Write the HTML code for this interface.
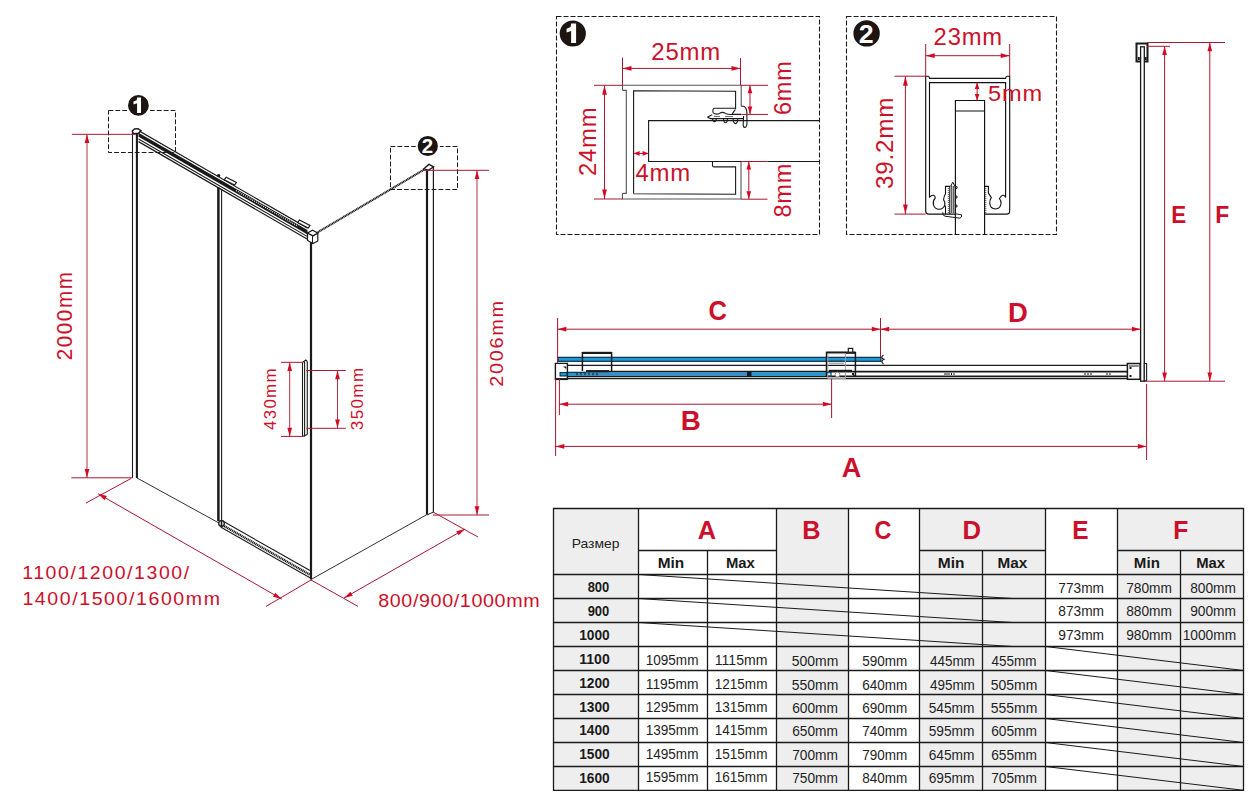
<!DOCTYPE html>
<html><head><meta charset="utf-8"><style>
html,body{margin:0;padding:0;background:#fff;}
body{width:1250px;height:800px;overflow:hidden;font-family:"Liberation Sans",sans-serif;}
svg{display:block;}
text{font-family:"Liberation Sans",sans-serif;}
</style></head><body>
<svg width="1250" height="800" viewBox="0 0 1250 800">
<rect width="1250" height="800" fill="#fff"/>
<rect x="553.5" y="508.5" width="85.0" height="281.79999999999995" fill="#eeeeee"/>
<rect x="776.5" y="508.5" width="72.0" height="281.79999999999995" fill="#eeeeee"/>
<rect x="919.5" y="508.5" width="126.0" height="281.79999999999995" fill="#eeeeee"/>
<rect x="1117.5" y="508.5" width="126.0" height="281.79999999999995" fill="#eeeeee"/>
<line x1="552.90" y1="508.50" x2="1244.10" y2="508.50" stroke="#1a1a1a" stroke-width="1.3" />
<line x1="638.50" y1="550.50" x2="776.50" y2="550.50" stroke="#1a1a1a" stroke-width="1.3" />
<line x1="919.50" y1="550.50" x2="1045.50" y2="550.50" stroke="#1a1a1a" stroke-width="1.3" />
<line x1="1117.50" y1="550.50" x2="1243.50" y2="550.50" stroke="#1a1a1a" stroke-width="1.3" />
<line x1="552.90" y1="574.50" x2="1244.10" y2="574.50" stroke="#1a1a1a" stroke-width="1.3" />
<line x1="552.90" y1="598.50" x2="1244.10" y2="598.50" stroke="#1a1a1a" stroke-width="1.3" />
<line x1="552.90" y1="622.50" x2="1244.10" y2="622.50" stroke="#1a1a1a" stroke-width="1.3" />
<line x1="552.90" y1="646.50" x2="1244.10" y2="646.50" stroke="#1a1a1a" stroke-width="1.3" />
<line x1="552.90" y1="670.50" x2="1244.10" y2="670.50" stroke="#1a1a1a" stroke-width="1.3" />
<line x1="552.90" y1="694.50" x2="1244.10" y2="694.50" stroke="#1a1a1a" stroke-width="1.3" />
<line x1="552.90" y1="718.50" x2="1244.10" y2="718.50" stroke="#1a1a1a" stroke-width="1.3" />
<line x1="552.90" y1="742.50" x2="1244.10" y2="742.50" stroke="#1a1a1a" stroke-width="1.3" />
<line x1="552.90" y1="766.50" x2="1244.10" y2="766.50" stroke="#1a1a1a" stroke-width="1.3" />
<line x1="552.90" y1="790.30" x2="1244.10" y2="790.30" stroke="#1a1a1a" stroke-width="1.3" />
<line x1="553.50" y1="508.50" x2="553.50" y2="790.30" stroke="#1a1a1a" stroke-width="1.3" />
<line x1="638.50" y1="508.50" x2="638.50" y2="790.30" stroke="#1a1a1a" stroke-width="1.3" />
<line x1="707.50" y1="550.50" x2="707.50" y2="790.30" stroke="#1a1a1a" stroke-width="1.3" />
<line x1="776.50" y1="508.50" x2="776.50" y2="790.30" stroke="#1a1a1a" stroke-width="1.3" />
<line x1="848.50" y1="508.50" x2="848.50" y2="790.30" stroke="#1a1a1a" stroke-width="1.3" />
<line x1="919.50" y1="508.50" x2="919.50" y2="790.30" stroke="#1a1a1a" stroke-width="1.3" />
<line x1="982.50" y1="550.50" x2="982.50" y2="790.30" stroke="#1a1a1a" stroke-width="1.3" />
<line x1="1045.50" y1="508.50" x2="1045.50" y2="790.30" stroke="#1a1a1a" stroke-width="1.3" />
<line x1="1117.50" y1="508.50" x2="1117.50" y2="790.30" stroke="#1a1a1a" stroke-width="1.3" />
<line x1="1180.50" y1="550.50" x2="1180.50" y2="790.30" stroke="#1a1a1a" stroke-width="1.3" />
<line x1="1243.50" y1="508.50" x2="1243.50" y2="790.30" stroke="#1a1a1a" stroke-width="1.3" />
<line x1="638.50" y1="574.50" x2="1012.50" y2="598.50" stroke="#1a1a1a" stroke-width="1" />
<line x1="638.50" y1="598.50" x2="1012.50" y2="622.50" stroke="#1a1a1a" stroke-width="1" />
<line x1="638.50" y1="622.50" x2="1012.50" y2="646.50" stroke="#1a1a1a" stroke-width="1" />
<line x1="1045.50" y1="646.50" x2="1243.50" y2="670.50" stroke="#1a1a1a" stroke-width="1" />
<line x1="1045.50" y1="670.50" x2="1243.50" y2="694.50" stroke="#1a1a1a" stroke-width="1" />
<line x1="1045.50" y1="694.50" x2="1243.50" y2="718.50" stroke="#1a1a1a" stroke-width="1" />
<line x1="1045.50" y1="718.50" x2="1243.50" y2="742.50" stroke="#1a1a1a" stroke-width="1" />
<line x1="1045.50" y1="742.50" x2="1243.50" y2="766.50" stroke="#1a1a1a" stroke-width="1" />
<line x1="1045.50" y1="766.50" x2="1243.50" y2="790.30" stroke="#1a1a1a" stroke-width="1" />
<g font-family="Liberation Sans, sans-serif">
<text x="571.71" y="547.56" font-size="13.63" font-weight="normal" fill="#222" textLength="47.83" lengthAdjust="spacingAndGlyphs" letter-spacing="0">Размер</text>
<text x="697.68" y="538.94" font-size="25.30" font-weight="bold" fill="#cc0f2b" textLength="18.37" lengthAdjust="spacingAndGlyphs" letter-spacing="0">A</text>
<text x="802.22" y="538.94" font-size="25.30" font-weight="bold" fill="#cc0f2b" textLength="18.31" lengthAdjust="spacingAndGlyphs" letter-spacing="0">B</text>
<text x="874.42" y="538.94" font-size="25.30" font-weight="bold" fill="#cc0f2b" textLength="16.93" lengthAdjust="spacingAndGlyphs" letter-spacing="0">C</text>
<text x="962.52" y="538.94" font-size="25.30" font-weight="bold" fill="#cc0f2b" textLength="18.53" lengthAdjust="spacingAndGlyphs" letter-spacing="0">D</text>
<text x="1072.20" y="538.94" font-size="25.30" font-weight="bold" fill="#cc0f2b" textLength="16.29" lengthAdjust="spacingAndGlyphs" letter-spacing="0">E</text>
<text x="1173.36" y="538.94" font-size="25.30" font-weight="bold" fill="#cc0f2b" textLength="15.07" lengthAdjust="spacingAndGlyphs" letter-spacing="0">F</text>
<text x="657.71" y="568.08" font-size="14.80" font-weight="bold" fill="#1a1a1a" textLength="26.45" lengthAdjust="spacingAndGlyphs" letter-spacing="0">Min</text>
<text x="725.95" y="567.52" font-size="14.80" font-weight="bold" fill="#1a1a1a" textLength="28.87" lengthAdjust="spacingAndGlyphs" letter-spacing="0">Max</text>
<text x="937.79" y="568.08" font-size="14.80" font-weight="bold" fill="#1a1a1a" textLength="26.67" lengthAdjust="spacingAndGlyphs" letter-spacing="0">Min</text>
<text x="997.59" y="567.52" font-size="14.80" font-weight="bold" fill="#1a1a1a" textLength="29.77" lengthAdjust="spacingAndGlyphs" letter-spacing="0">Max</text>
<text x="1133.89" y="568.08" font-size="14.80" font-weight="bold" fill="#1a1a1a" textLength="25.99" lengthAdjust="spacingAndGlyphs" letter-spacing="0">Min</text>
<text x="1196.19" y="567.52" font-size="14.80" font-weight="bold" fill="#1a1a1a" textLength="28.87" lengthAdjust="spacingAndGlyphs" letter-spacing="0">Max</text>
<text x="587.64" y="591.50" font-size="13.90" font-weight="bold" fill="#1a1a1a" textLength="21.67" lengthAdjust="spacingAndGlyphs" letter-spacing="0">800</text>
<text x="587.64" y="616.18" font-size="13.90" font-weight="bold" fill="#1a1a1a" textLength="21.67" lengthAdjust="spacingAndGlyphs" letter-spacing="0">900</text>
<text x="579.24" y="639.84" font-size="13.90" font-weight="bold" fill="#1a1a1a" textLength="30.47" lengthAdjust="spacingAndGlyphs" letter-spacing="0">1000</text>
<text x="579.24" y="663.96" font-size="13.90" font-weight="bold" fill="#1a1a1a" textLength="30.47" lengthAdjust="spacingAndGlyphs" letter-spacing="0">1100</text>
<text x="579.24" y="687.74" font-size="13.90" font-weight="bold" fill="#1a1a1a" textLength="30.47" lengthAdjust="spacingAndGlyphs" letter-spacing="0">1200</text>
<text x="579.24" y="711.74" font-size="13.90" font-weight="bold" fill="#1a1a1a" textLength="30.47" lengthAdjust="spacingAndGlyphs" letter-spacing="0">1300</text>
<text x="579.24" y="734.50" font-size="13.90" font-weight="bold" fill="#1a1a1a" textLength="30.47" lengthAdjust="spacingAndGlyphs" letter-spacing="0">1400</text>
<text x="579.24" y="758.96" font-size="13.90" font-weight="bold" fill="#1a1a1a" textLength="30.47" lengthAdjust="spacingAndGlyphs" letter-spacing="0">1500</text>
<text x="579.24" y="782.96" font-size="13.90" font-weight="bold" fill="#1a1a1a" textLength="30.47" lengthAdjust="spacingAndGlyphs" letter-spacing="0">1600</text>
<text x="1058.26" y="593.02" font-size="14.30" font-weight="normal" fill="#1e1e1e" textLength="45.79" lengthAdjust="spacingAndGlyphs" letter-spacing="0">773mm</text>
<text x="1126.14" y="593.02" font-size="14.30" font-weight="normal" fill="#1e1e1e" textLength="45.79" lengthAdjust="spacingAndGlyphs" letter-spacing="0">780mm</text>
<text x="1190.14" y="593.02" font-size="14.30" font-weight="normal" fill="#1e1e1e" textLength="45.79" lengthAdjust="spacingAndGlyphs" letter-spacing="0">800mm</text>
<text x="1058.26" y="616.02" font-size="14.30" font-weight="normal" fill="#1e1e1e" textLength="45.79" lengthAdjust="spacingAndGlyphs" letter-spacing="0">873mm</text>
<text x="1126.14" y="616.02" font-size="14.30" font-weight="normal" fill="#1e1e1e" textLength="45.79" lengthAdjust="spacingAndGlyphs" letter-spacing="0">880mm</text>
<text x="1190.14" y="616.02" font-size="14.30" font-weight="normal" fill="#1e1e1e" textLength="45.79" lengthAdjust="spacingAndGlyphs" letter-spacing="0">900mm</text>
<text x="1058.26" y="639.80" font-size="14.30" font-weight="normal" fill="#1e1e1e" textLength="45.79" lengthAdjust="spacingAndGlyphs" letter-spacing="0">973mm</text>
<text x="1126.14" y="639.80" font-size="14.30" font-weight="normal" fill="#1e1e1e" textLength="45.79" lengthAdjust="spacingAndGlyphs" letter-spacing="0">980mm</text>
<text x="1182.70" y="639.80" font-size="14.30" font-weight="normal" fill="#1e1e1e" textLength="53.47" lengthAdjust="spacingAndGlyphs" letter-spacing="0">1000mm</text>
<text x="645.76" y="665.36" font-size="14.30" font-weight="normal" fill="#1e1e1e" textLength="52.67" lengthAdjust="spacingAndGlyphs" letter-spacing="0">1095mm</text>
<text x="714.76" y="665.36" font-size="14.30" font-weight="normal" fill="#1e1e1e" textLength="52.67" lengthAdjust="spacingAndGlyphs" letter-spacing="0">1115mm</text>
<text x="791.74" y="665.68" font-size="14.30" font-weight="normal" fill="#1e1e1e" textLength="46.59" lengthAdjust="spacingAndGlyphs" letter-spacing="0">500mm</text>
<text x="862.20" y="665.68" font-size="14.30" font-weight="normal" fill="#1e1e1e" textLength="44.99" lengthAdjust="spacingAndGlyphs" letter-spacing="0">590mm</text>
<text x="929.88" y="665.68" font-size="14.30" font-weight="normal" fill="#1e1e1e" textLength="44.99" lengthAdjust="spacingAndGlyphs" letter-spacing="0">445mm</text>
<text x="991.54" y="665.68" font-size="14.30" font-weight="normal" fill="#1e1e1e" textLength="44.99" lengthAdjust="spacingAndGlyphs" letter-spacing="0">455mm</text>
<text x="645.76" y="688.90" font-size="14.30" font-weight="normal" fill="#1e1e1e" textLength="52.67" lengthAdjust="spacingAndGlyphs" letter-spacing="0">1195mm</text>
<text x="714.76" y="688.90" font-size="14.30" font-weight="normal" fill="#1e1e1e" textLength="52.67" lengthAdjust="spacingAndGlyphs" letter-spacing="0">1215mm</text>
<text x="791.74" y="690.02" font-size="14.30" font-weight="normal" fill="#1e1e1e" textLength="46.59" lengthAdjust="spacingAndGlyphs" letter-spacing="0">550mm</text>
<text x="862.20" y="690.02" font-size="14.30" font-weight="normal" fill="#1e1e1e" textLength="44.99" lengthAdjust="spacingAndGlyphs" letter-spacing="0">640mm</text>
<text x="929.88" y="690.02" font-size="14.30" font-weight="normal" fill="#1e1e1e" textLength="44.99" lengthAdjust="spacingAndGlyphs" letter-spacing="0">495mm</text>
<text x="990.74" y="690.02" font-size="14.30" font-weight="normal" fill="#1e1e1e" textLength="46.59" lengthAdjust="spacingAndGlyphs" letter-spacing="0">505mm</text>
<text x="645.76" y="711.79" font-size="14.30" font-weight="normal" fill="#1e1e1e" textLength="52.67" lengthAdjust="spacingAndGlyphs" letter-spacing="0">1295mm</text>
<text x="714.76" y="711.79" font-size="14.30" font-weight="normal" fill="#1e1e1e" textLength="52.67" lengthAdjust="spacingAndGlyphs" letter-spacing="0">1315mm</text>
<text x="792.14" y="712.91" font-size="14.30" font-weight="normal" fill="#1e1e1e" textLength="45.79" lengthAdjust="spacingAndGlyphs" letter-spacing="0">600mm</text>
<text x="862.20" y="712.91" font-size="14.30" font-weight="normal" fill="#1e1e1e" textLength="44.99" lengthAdjust="spacingAndGlyphs" letter-spacing="0">690mm</text>
<text x="928.68" y="712.91" font-size="14.30" font-weight="normal" fill="#1e1e1e" textLength="45.79" lengthAdjust="spacingAndGlyphs" letter-spacing="0">545mm</text>
<text x="990.74" y="712.91" font-size="14.30" font-weight="normal" fill="#1e1e1e" textLength="46.59" lengthAdjust="spacingAndGlyphs" letter-spacing="0">555mm</text>
<text x="645.76" y="734.68" font-size="14.30" font-weight="normal" fill="#1e1e1e" textLength="52.67" lengthAdjust="spacingAndGlyphs" letter-spacing="0">1395mm</text>
<text x="714.76" y="734.68" font-size="14.30" font-weight="normal" fill="#1e1e1e" textLength="52.67" lengthAdjust="spacingAndGlyphs" letter-spacing="0">1415mm</text>
<text x="792.14" y="735.80" font-size="14.30" font-weight="normal" fill="#1e1e1e" textLength="45.79" lengthAdjust="spacingAndGlyphs" letter-spacing="0">650mm</text>
<text x="862.20" y="735.80" font-size="14.30" font-weight="normal" fill="#1e1e1e" textLength="44.99" lengthAdjust="spacingAndGlyphs" letter-spacing="0">740mm</text>
<text x="928.68" y="735.80" font-size="14.30" font-weight="normal" fill="#1e1e1e" textLength="45.79" lengthAdjust="spacingAndGlyphs" letter-spacing="0">595mm</text>
<text x="991.14" y="735.80" font-size="14.30" font-weight="normal" fill="#1e1e1e" textLength="45.79" lengthAdjust="spacingAndGlyphs" letter-spacing="0">605mm</text>
<text x="645.76" y="758.68" font-size="14.30" font-weight="normal" fill="#1e1e1e" textLength="52.67" lengthAdjust="spacingAndGlyphs" letter-spacing="0">1495mm</text>
<text x="714.76" y="758.68" font-size="14.30" font-weight="normal" fill="#1e1e1e" textLength="52.67" lengthAdjust="spacingAndGlyphs" letter-spacing="0">1515mm</text>
<text x="792.14" y="759.80" font-size="14.30" font-weight="normal" fill="#1e1e1e" textLength="45.79" lengthAdjust="spacingAndGlyphs" letter-spacing="0">700mm</text>
<text x="862.20" y="759.80" font-size="14.30" font-weight="normal" fill="#1e1e1e" textLength="44.99" lengthAdjust="spacingAndGlyphs" letter-spacing="0">790mm</text>
<text x="928.68" y="759.80" font-size="14.30" font-weight="normal" fill="#1e1e1e" textLength="45.79" lengthAdjust="spacingAndGlyphs" letter-spacing="0">645mm</text>
<text x="991.14" y="759.80" font-size="14.30" font-weight="normal" fill="#1e1e1e" textLength="45.79" lengthAdjust="spacingAndGlyphs" letter-spacing="0">655mm</text>
<text x="645.76" y="781.79" font-size="14.30" font-weight="normal" fill="#1e1e1e" textLength="52.67" lengthAdjust="spacingAndGlyphs" letter-spacing="0">1595mm</text>
<text x="714.76" y="781.79" font-size="14.30" font-weight="normal" fill="#1e1e1e" textLength="52.67" lengthAdjust="spacingAndGlyphs" letter-spacing="0">1615mm</text>
<text x="792.14" y="782.91" font-size="14.30" font-weight="normal" fill="#1e1e1e" textLength="45.79" lengthAdjust="spacingAndGlyphs" letter-spacing="0">750mm</text>
<text x="862.20" y="782.91" font-size="14.30" font-weight="normal" fill="#1e1e1e" textLength="44.99" lengthAdjust="spacingAndGlyphs" letter-spacing="0">840mm</text>
<text x="928.68" y="782.91" font-size="14.30" font-weight="normal" fill="#1e1e1e" textLength="45.79" lengthAdjust="spacingAndGlyphs" letter-spacing="0">695mm</text>
<text x="991.14" y="782.91" font-size="14.30" font-weight="normal" fill="#1e1e1e" textLength="45.79" lengthAdjust="spacingAndGlyphs" letter-spacing="0">705mm</text>
</g>
<rect x="108.5" y="110.5" width="67" height="42" fill="none" stroke="#1a1a1a" stroke-width="1" stroke-dasharray="4.8 2.1"/>
<rect x="390.5" y="146.5" width="67" height="43" fill="none" stroke="#1a1a1a" stroke-width="1" stroke-dasharray="4.8 2.1"/>
<line x1="132.50" y1="131.00" x2="132.50" y2="478.00" stroke="#1a1a1a" stroke-width="1.1" />
<line x1="136.90" y1="133.00" x2="136.90" y2="478.00" stroke="#1a1a1a" stroke-width="2.1" />
<line x1="218.40" y1="187.50" x2="218.40" y2="521.00" stroke="#1a1a1a" stroke-width="2.5" />
<line x1="221.60" y1="189.00" x2="221.60" y2="521.00" stroke="#1a1a1a" stroke-width="1.1" />
<line x1="311.00" y1="241.00" x2="311.00" y2="579.50" stroke="#1a1a1a" stroke-width="2.2" />
<line x1="427.00" y1="169.00" x2="427.00" y2="514.50" stroke="#1a1a1a" stroke-width="2.2" />
<line x1="433.40" y1="167.00" x2="433.40" y2="512.00" stroke="#1a1a1a" stroke-width="1.2" />
<line x1="138.50" y1="130.63" x2="307.50" y2="228.12" stroke="#1a1a1a" stroke-width="1.2" />
<polygon points="138.5,132.633 307.5,230.015 307.5,234.415 138.5,136.633" fill="#1a1a1a"/>
<line x1="138.50" y1="131.73" x2="307.50" y2="229.22" stroke="#fff" stroke-width="0.7" stroke-dasharray="1 1"/>
<line x1="236.00" y1="190.49" x2="298.00" y2="226.22" stroke="#fff" stroke-width="1.3" stroke-dasharray="0.9 1.2"/>
<line x1="138.50" y1="138.93" x2="307.50" y2="236.62" stroke="#1a1a1a" stroke-width="1.1" />
<line x1="138.50" y1="141.63" x2="307.50" y2="239.31" stroke="#1a1a1a" stroke-width="1.2" />
<polygon points="226.2,177.2 236.4,182.5 234.6,185 224.2,179.8" fill="#fff" stroke="#1a1a1a" stroke-width="1.2"/>
<polygon points="299.5,220 310,225.5 308.2,228 297.7,222.6" fill="#fff" stroke="#1a1a1a" stroke-width="1.2"/>
<circle cx="218.6" cy="175.6" r="1.7" fill="#1a1a1a"/>
<polygon points="307.5,233 307.5,240.5 313,243.5 317.8,241 317.8,233 313,235.8" fill="#fff" stroke="#1a1a1a" stroke-width="1.2"/>
<polygon points="307.5,233 312.5,230.2 317.8,233 313,235.8" fill="#fff" stroke="#1a1a1a" stroke-width="1.2"/>
<line x1="312.50" y1="236.00" x2="312.50" y2="243.50" stroke="#1a1a1a" stroke-width="1" />
<polygon points="132.2,131 134.5,129 138,128.6 141,130.6 138.5,133.2 133.5,133.6" fill="#fff" stroke="#1a1a1a" stroke-width="1.4"/>
<polygon points="423.8,168.8 429,164.4 433.6,166.8 428.4,170.2" fill="#fff" stroke="#1a1a1a" stroke-width="1.3"/>
<line x1="317.80" y1="232.20" x2="424.50" y2="169.40" stroke="#1a1a1a" stroke-width="2.1" stroke-dasharray="1.2 0.45"/>
<line x1="137.00" y1="478.00" x2="219.00" y2="523.00" stroke="#1a1a1a" stroke-width="0.9" />
<line x1="221.00" y1="520.05" x2="310.00" y2="570.51" stroke="#1a1a1a" stroke-width="1.1" />
<line x1="221.00" y1="524.25" x2="310.00" y2="574.71" stroke="#1a1a1a" stroke-width="2.4" stroke-dasharray="1.2 0.6"/>
<line x1="221.00" y1="527.35" x2="310.00" y2="577.81" stroke="#1a1a1a" stroke-width="1.1" />
<circle cx="221.5" cy="523.5" r="2.8" fill="#fff" stroke="#1a1a1a" stroke-width="1.3"/>
<line x1="221.50" y1="521.00" x2="221.50" y2="528.00" stroke="#1a1a1a" stroke-width="1.6" />
<line x1="311.00" y1="579.50" x2="427.00" y2="514.50" stroke="#1a1a1a" stroke-width="0.9" />
<line x1="433.40" y1="512.00" x2="427.00" y2="515.00" stroke="#1a1a1a" stroke-width="1" />
<line x1="302.50" y1="362.50" x2="302.50" y2="436.50" stroke="#1a1a1a" stroke-width="1.1" />
<line x1="304.60" y1="361.50" x2="304.60" y2="436.50" stroke="#1a1a1a" stroke-width="1.1" />
<line x1="307.30" y1="361.50" x2="307.30" y2="434.50" stroke="#1a1a1a" stroke-width="1.1" />
<polyline points="302.5,362.5 305.8,360 307.3,361.5" fill="none" stroke="#1a1a1a" stroke-width="1.1"/>
<line x1="302.50" y1="436.50" x2="307.30" y2="434.50" stroke="#1a1a1a" stroke-width="1.1" />
<line x1="71.80" y1="134.30" x2="136.00" y2="134.30" stroke="#a8182f" stroke-width="1" />
<line x1="71.30" y1="477.80" x2="133.00" y2="477.80" stroke="#a8182f" stroke-width="1" />
<line x1="87.00" y1="134.30" x2="87.00" y2="477.80" stroke="#a8182f" stroke-width="0.9" />
<polygon points="87.00,134.30 89.35,143.00 84.65,143.00" fill="#d40a24"/>
<polygon points="87.00,477.80 84.65,469.10 89.35,469.10" fill="#d40a24"/>
<line x1="424.00" y1="170.30" x2="489.00" y2="170.30" stroke="#a8182f" stroke-width="1" />
<line x1="433.00" y1="515.00" x2="489.00" y2="515.00" stroke="#a8182f" stroke-width="1" />
<line x1="477.00" y1="170.30" x2="477.00" y2="515.00" stroke="#a8182f" stroke-width="0.9" />
<polygon points="477.00,170.30 479.35,179.00 474.65,179.00" fill="#d40a24"/>
<polygon points="477.00,515.00 474.65,506.30 479.35,506.30" fill="#d40a24"/>
<line x1="281.00" y1="362.30" x2="302.50" y2="362.30" stroke="#a8182f" stroke-width="1" />
<line x1="281.00" y1="436.40" x2="302.50" y2="436.40" stroke="#a8182f" stroke-width="1" />
<line x1="289.70" y1="362.30" x2="289.70" y2="436.40" stroke="#a8182f" stroke-width="0.9" />
<polygon points="289.70,362.30 292.05,371.00 287.35,371.00" fill="#d40a24"/>
<polygon points="289.70,436.40 287.35,427.70 292.05,427.70" fill="#d40a24"/>
<line x1="306.30" y1="370.50" x2="345.80" y2="370.50" stroke="#a8182f" stroke-width="1" />
<line x1="306.30" y1="428.30" x2="345.80" y2="428.30" stroke="#a8182f" stroke-width="1" />
<line x1="337.50" y1="370.50" x2="337.50" y2="428.30" stroke="#a8182f" stroke-width="0.9" />
<polygon points="337.50,370.50 339.85,379.20 335.15,379.20" fill="#d40a24"/>
<polygon points="337.50,428.30 335.15,419.60 339.85,419.60" fill="#d40a24"/>
<line x1="131.00" y1="478.50" x2="86.00" y2="503.00" stroke="#a8182f" stroke-width="1" />
<line x1="311.00" y1="580.00" x2="266.00" y2="606.40" stroke="#a8182f" stroke-width="1" />
<line x1="98.20" y1="493.80" x2="281.70" y2="599.00" stroke="#a8182f" stroke-width="1" />
<polygon points="98.20,493.80 106.92,496.09 104.58,500.17" fill="#d40a24"/>
<polygon points="281.70,599.00 272.98,596.71 275.32,592.63" fill="#d40a24"/>
<line x1="311.00" y1="580.00" x2="358.00" y2="606.40" stroke="#a8182f" stroke-width="1" />
<line x1="433.00" y1="512.00" x2="478.00" y2="537.00" stroke="#a8182f" stroke-width="1" />
<line x1="344.00" y1="598.00" x2="465.00" y2="529.00" stroke="#a8182f" stroke-width="1" />
<polygon points="344.00,598.00 350.39,591.65 352.72,595.73" fill="#d40a24"/>
<polygon points="465.00,529.00 458.61,535.35 456.28,531.27" fill="#d40a24"/>
<g font-family="Liberation Sans, sans-serif">
<text transform="translate(72.26,360.23) rotate(-90)" x="0" y="0" font-size="21.79" font-weight="normal" fill="#cc0f2b" textLength="89.62" lengthAdjust="spacingAndGlyphs" letter-spacing="1.6">2000mm</text>
<text transform="translate(502.90,386.75) rotate(-90)" x="0" y="0" font-size="19.22" font-weight="normal" fill="#cc0f2b" textLength="87.56" lengthAdjust="spacingAndGlyphs" letter-spacing="1.6">2006mm</text>
<text transform="translate(276.36,430.03) rotate(-90)" x="0" y="0" font-size="17.30" font-weight="normal" fill="#cc0f2b" textLength="62.87" lengthAdjust="spacingAndGlyphs" letter-spacing="1.4">430mm</text>
<text transform="translate(362.84,430.15) rotate(-90)" x="0" y="0" font-size="17.30" font-weight="normal" fill="#cc0f2b" textLength="63.59" lengthAdjust="spacingAndGlyphs" letter-spacing="1.4">350mm</text>
<text x="22.16" y="579.00" font-size="18.60" font-weight="normal" fill="#cc0f2b" textLength="168.61" lengthAdjust="spacingAndGlyphs" letter-spacing="1.5">1100/1200/1300/</text>
<text x="22.42" y="605.20" font-size="18.60" font-weight="normal" fill="#cc0f2b" textLength="199.13" lengthAdjust="spacingAndGlyphs" letter-spacing="1.5">1400/1500/1600mm</text>
<text x="378.21" y="607.42" font-size="19.22" font-weight="normal" fill="#cc0f2b" textLength="162.05" lengthAdjust="spacingAndGlyphs" letter-spacing="0.6">800/900/1000mm</text>
</g>
<circle cx="138.4" cy="105.4" r="11.4" fill="#1c1512" stroke="#fff" stroke-width="2"/>
<polygon points="137.13,97.54 141.02,97.54 141.02,112.94 137.05,112.94 137.05,103.34 133.48,104.61 133.48,101.59 136.65,100.16" fill="#fff"/>
<circle cx="427.8" cy="146.0" r="11.1" fill="#1c1512" stroke="#fff" stroke-width="2"/>
<text x="427.49" y="153.40" font-size="20.43" font-weight="bold" fill="#fff" text-anchor="middle" font-family="Liberation Sans, sans-serif">2</text>
<rect x="556.5" y="16.5" width="263" height="218" fill="none" stroke="#1a1a1a" stroke-width="1.1" stroke-dasharray="5 2"/>
<circle cx="572.8" cy="33.5" r="14.1" fill="#1c1512" stroke="#fff" stroke-width="2"/>
<polygon points="571.20,23.60 576.10,23.60 576.10,43.00 571.10,43.00 571.10,30.90 566.60,32.50 566.60,28.70 570.60,26.90" fill="#fff"/>
<path d="M622.5,85.3 L741.2,85.3 L741.2,106.2 M622.5,85.3 L622.5,89.4 Q622.5,90.4 623.5,90.4 L626.3,90.4 L626.3,193.4 L623.5,193.4 Q622.4,193.4 622.4,194.5 L622.4,199 L741,199 L741,161.5" fill="none" stroke="#555" stroke-width="1.1"/>
<path d="M633.6,193.6 L633.6,90.8 L735.6,91.2 L735.6,109.2 M633.6,193.8 L735.6,194.3 L735.6,166.9 L714,166.9 Q712.5,166.9 712.5,165.4 L712.5,161.5" fill="none" stroke="#1a1a1a" stroke-width="1.1"/>
<path d="M819.5,120.6 L648.6,120.6 L648.6,161.5 L741,161.5" fill="none" stroke="#1a1a1a" stroke-width="1.1"/>
<path d="M767.5,161.5 L819.5,161.5" fill="none" stroke="#1a1a1a" stroke-width="1.1"/>
<path d="M712.9,112.6 L712.9,110 Q712.9,108.3 714.8,108.3 L735.6,108.3 M712.9,112.6 Q716,115.2 719.5,113.4 Q722.5,111.3 725.5,113.4 Q728,114.6 732,114.4 L741,114.4 M732.4,113.6 L735.2,109.6" fill="none" stroke="#1a1a1a" stroke-width="1.1"/>
<path d="M707.3,117.2 L710.6,115.6 L712.2,114.6 M707.3,117.2 L710.6,118.6 L744,118.6 M712.5,118.6 Q713,121.5 714.5,121.6 Q716,121.5 716.4,118.6 M723.5,118.6 Q723.8,122.6 725.5,122.8 Q727.3,122.6 727.5,118.6 M733,118.6 Q733.5,123.5 735.5,123.6 Q737.5,123.4 737.8,118.6" fill="none" stroke="#1a1a1a" stroke-width="1.1"/>
<path d="M714,116.4 L720,116.4 M725,116.6 L733,116.6" fill="none" stroke="#666" stroke-width="1"/>
<path d="M741.2,106.2 L743.8,106.2 Q746.5,107.5 746.8,112 L747,123.5 Q746.8,127.4 744.6,127.4 Q743,127.2 743.2,124 L743.6,116" fill="none" stroke="#1a1a1a" stroke-width="1.1"/>
<line x1="622.50" y1="57.50" x2="622.50" y2="85.30" stroke="#a8182f" stroke-width="1" />
<line x1="740.50" y1="58.00" x2="740.50" y2="85.30" stroke="#a8182f" stroke-width="1" />
<line x1="622.50" y1="68.40" x2="740.50" y2="68.40" stroke="#a8182f" stroke-width="1" />
<polygon points="622.50,68.40 631.50,66.00 631.50,70.80" fill="#d40a24"/>
<polygon points="740.50,68.40 731.50,70.80 731.50,66.00" fill="#d40a24"/>
<line x1="594.00" y1="85.30" x2="622.50" y2="85.30" stroke="#a8182f" stroke-width="1" />
<line x1="594.00" y1="199.00" x2="622.40" y2="199.00" stroke="#a8182f" stroke-width="1" />
<line x1="604.50" y1="85.30" x2="604.50" y2="199.00" stroke="#a8182f" stroke-width="1" />
<polygon points="604.50,85.30 606.90,94.80 602.10,94.80" fill="#d40a24"/>
<polygon points="604.50,199.00 602.10,189.50 606.90,189.50" fill="#d40a24"/>
<line x1="741.20" y1="85.30" x2="768.00" y2="85.30" stroke="#a8182f" stroke-width="1" />
<line x1="741.20" y1="114.40" x2="768.00" y2="114.40" stroke="#a8182f" stroke-width="1" />
<line x1="750.00" y1="85.30" x2="750.00" y2="114.40" stroke="#a8182f" stroke-width="1" />
<polygon points="750.00,85.30 752.30,93.30 747.70,93.30" fill="#d40a24"/>
<polygon points="750.00,114.40 747.70,106.40 752.30,106.40" fill="#d40a24"/>
<line x1="741.00" y1="199.20" x2="767.50" y2="199.20" stroke="#a8182f" stroke-width="1" />
<line x1="741.00" y1="161.50" x2="767.50" y2="161.50" stroke="#a8182f" stroke-width="1" />
<line x1="748.80" y1="161.50" x2="748.80" y2="199.20" stroke="#a8182f" stroke-width="1" />
<polygon points="748.80,161.50 751.10,169.50 746.50,169.50" fill="#d40a24"/>
<polygon points="748.80,199.20 746.50,191.20 751.10,191.20" fill="#d40a24"/>
<line x1="633.60" y1="153.40" x2="648.60" y2="153.40" stroke="#a8182f" stroke-width="1" />
<polygon points="633.60,153.40 639.60,151.10 639.60,155.70" fill="#d40a24"/>
<polygon points="648.60,153.40 642.60,155.70 642.60,151.10" fill="#d40a24"/>
<g font-family="Liberation Sans, sans-serif">
<text x="651.37" y="60.28" font-size="23.40" font-weight="normal" fill="#cc0f2b" textLength="69.72" lengthAdjust="spacingAndGlyphs" letter-spacing="0.8">25mm</text>
<text x="635.43" y="181.20" font-size="23.40" font-weight="normal" fill="#cc0f2b" textLength="55.64" lengthAdjust="spacingAndGlyphs" letter-spacing="0.8">4mm</text>
<text transform="translate(595.64,176.02) rotate(-90)" x="0" y="0" font-size="23.40" font-weight="normal" fill="#cc0f2b" textLength="69.34" lengthAdjust="spacingAndGlyphs" letter-spacing="0.8">24mm</text>
<text transform="translate(791.34,114.94) rotate(-90)" x="0" y="0" font-size="23.40" font-weight="normal" fill="#cc0f2b" textLength="54.38" lengthAdjust="spacingAndGlyphs" letter-spacing="0.8">6mm</text>
<text transform="translate(791.34,217.56) rotate(-90)" x="0" y="0" font-size="23.40" font-weight="normal" fill="#cc0f2b" textLength="54.82" lengthAdjust="spacingAndGlyphs" letter-spacing="0.8">8mm</text>
</g>
<rect x="846.5" y="16.5" width="210" height="218" fill="none" stroke="#1a1a1a" stroke-width="1.1" stroke-dasharray="5 2"/>
<circle cx="866.6" cy="33.4" r="14.2" fill="#1c1512" stroke="#fff" stroke-width="2"/>
<text x="866.20" y="43.07" font-size="26.70" font-weight="bold" fill="#fff" text-anchor="middle" font-family="Liberation Sans, sans-serif">2</text>
<path d="M955.5,214.1 L928.6,214.1 Q925.7,214.1 925.7,211 L925.7,76.2 L928.2,76.2 Q929.6,76.6 929.6,78.4 L1005.6,78.4 Q1005.6,76.6 1007,76.2 L1009.7,76.2 L1009.7,211 Q1009.7,214.1 1006.6,214.1 L984.6,214.1" fill="none" stroke="#111" stroke-width="1.15"/>
<path d="M929.5,197.4 L929.5,82.6 L1005.6,82.6 L1005.6,197.4" fill="none" stroke="#111" stroke-width="1.15"/>
<path d="M955.4,234.6 L955.4,100.5 L984.6,100.5 L984.6,234.6 M955.4,111 L984.6,111" fill="none" stroke="#111" stroke-width="1.15"/>
<path d="M929.5,197.4 Q931.5,194.8 933.5,195.3 Q935.5,196 935.2,198.2 Q932.6,201 933.4,204.8 Q934.8,209 939.2,209.2 Q943.4,209 944.8,204.8 Q945.4,202 943.6,199.8 Q943.8,196.5 945.5,193.5 L945.5,186.4 L949.8,186.4 L949.8,214.1 M944.8,204.8 L945.5,207 L945.5,214.1" fill="none" stroke="#111" stroke-width="1.1"/>
<line x1="948.30" y1="188.00" x2="948.30" y2="213.00" stroke="#1a1a1a" stroke-width="1" stroke-dasharray="0.8 1.2"/>
<path d="M952.8,182.2 L950.8,186 L951.8,186 L951.8,213 M952.8,182.2 L954.8,186 L953.8,186 L953.8,213" fill="none" stroke="#1a1a1a" stroke-width="1"/>
<path d="M955.4,185.9 Q959,187.5 955.4,189.1" fill="none" stroke="#1a1a1a" stroke-width="1.1"/>
<path d="M955.4,195.4 Q959,197 955.4,198.6" fill="none" stroke="#1a1a1a" stroke-width="1.1"/>
<path d="M955.4,204.4 Q959,206 955.4,207.6" fill="none" stroke="#1a1a1a" stroke-width="1.1"/>
<path d="M942.8,212.2 Q942.2,215.5 945,216.2 L960,218.2 Q962,217.5 961.5,214.8 L955.4,213.8" fill="none" stroke="#1a1a1a" stroke-width="1"/>
<path d="M984.6,186.4 L988.4,186.4 L988.4,193 L991.3,197.6 Q989.6,200 989.8,203.6 Q990.4,208.6 995.4,209 Q1000.4,208.8 1001,203.8 Q1001.3,200.5 999.5,198.6 Q1001,196 1002.6,195.3 Q1004.6,195 1005.6,197.4" fill="none" stroke="#111" stroke-width="1.1"/>
<line x1="985.80" y1="188.00" x2="985.80" y2="213.00" stroke="#1a1a1a" stroke-width="1" stroke-dasharray="0.8 1.2"/>
<line x1="925.70" y1="44.00" x2="925.70" y2="76.20" stroke="#a8182f" stroke-width="1" />
<line x1="1009.70" y1="44.00" x2="1009.70" y2="76.20" stroke="#a8182f" stroke-width="1" />
<line x1="925.70" y1="55.70" x2="1009.70" y2="55.70" stroke="#a8182f" stroke-width="1" />
<polygon points="925.70,55.70 934.70,53.30 934.70,58.10" fill="#d40a24"/>
<polygon points="1009.70,55.70 1000.70,58.10 1000.70,53.30" fill="#d40a24"/>
<line x1="894.50" y1="76.20" x2="925.70" y2="76.20" stroke="#a8182f" stroke-width="1" />
<line x1="894.50" y1="214.10" x2="925.70" y2="214.10" stroke="#a8182f" stroke-width="1" />
<line x1="905.40" y1="76.20" x2="905.40" y2="214.10" stroke="#a8182f" stroke-width="1" />
<polygon points="905.40,76.20 907.80,85.70 903.00,85.70" fill="#d40a24"/>
<polygon points="905.40,214.10 903.00,204.60 907.80,204.60" fill="#d40a24"/>
<line x1="977.10" y1="82.60" x2="977.10" y2="100.50" stroke="#a8182f" stroke-width="1" />
<polygon points="977.10,82.60 979.40,89.10 974.80,89.10" fill="#d40a24"/>
<polygon points="977.10,100.50 974.80,94.00 979.40,94.00" fill="#d40a24"/>
<g font-family="Liberation Sans, sans-serif">
<text x="933.61" y="45.24" font-size="23.40" font-weight="normal" fill="#cc0f2b" textLength="69.34" lengthAdjust="spacingAndGlyphs" letter-spacing="0.8">23mm</text>
<text x="988.01" y="100.74" font-size="21.26" font-weight="normal" fill="#cc0f2b" textLength="55.11" lengthAdjust="spacingAndGlyphs" letter-spacing="0.8">5mm</text>
<text transform="translate(893.38,189.11) rotate(-90)" x="0" y="0" font-size="23.40" font-weight="normal" fill="#cc0f2b" textLength="92.20" lengthAdjust="spacingAndGlyphs" letter-spacing="0.8">39.2mm</text>
</g>
<line x1="566.00" y1="365.40" x2="1127.50" y2="365.40" stroke="#1a1a1a" stroke-width="1.3" />
<line x1="586.00" y1="371.60" x2="1127.50" y2="371.60" stroke="#1a1a1a" stroke-width="1.8" />
<line x1="562.00" y1="376.30" x2="1127.50" y2="376.30" stroke="#1a1a1a" stroke-width="1.4" />
<line x1="566.00" y1="378.50" x2="1127.50" y2="378.50" stroke="#1a1a1a" stroke-width="1.3" />
<line x1="949.00" y1="373.00" x2="949.00" y2="375.00" stroke="#1a1a1a" stroke-width="1" />
<line x1="951.50" y1="373.00" x2="951.50" y2="375.00" stroke="#1a1a1a" stroke-width="1" />
<line x1="954.00" y1="373.00" x2="954.00" y2="375.00" stroke="#1a1a1a" stroke-width="1" />
<line x1="1085.00" y1="373.00" x2="1085.00" y2="375.00" stroke="#1a1a1a" stroke-width="1" />
<line x1="1088.00" y1="373.00" x2="1088.00" y2="375.00" stroke="#1a1a1a" stroke-width="1" />
<line x1="1091.00" y1="373.00" x2="1091.00" y2="375.00" stroke="#1a1a1a" stroke-width="1" />
<line x1="1107.00" y1="373.00" x2="1107.00" y2="375.00" stroke="#1a1a1a" stroke-width="1" />
<line x1="1110.00" y1="373.00" x2="1110.00" y2="375.00" stroke="#1a1a1a" stroke-width="1" />
<line x1="944.00" y1="374.00" x2="948.00" y2="374.00" stroke="#1a1a1a" stroke-width="1" />
<rect x="558" y="357.3" width="323" height="4" fill="#1a9ad6" stroke="#0a2038" stroke-width="1.1"/>
<rect x="560" y="372.4" width="268" height="3.4" fill="#1a9ad6"/>
<rect x="574" y="372.4" width="174" height="3.4" fill="#3a8ec2"/>
<rect x="747" y="371.4" width="4.5" height="5" fill="#0c1a2a"/>
<line x1="560.00" y1="372.30" x2="586.00" y2="372.30" stroke="#0a2038" stroke-width="1.1" />
<line x1="577.00" y1="372.80" x2="577.00" y2="375.40" stroke="#0c1a2a" stroke-width="1" />
<line x1="581.00" y1="372.80" x2="581.00" y2="375.40" stroke="#0c1a2a" stroke-width="1" />
<line x1="585.00" y1="372.80" x2="585.00" y2="375.40" stroke="#0c1a2a" stroke-width="1" />
<line x1="589.00" y1="372.80" x2="589.00" y2="375.40" stroke="#0c1a2a" stroke-width="1" />
<line x1="593.00" y1="372.80" x2="593.00" y2="375.40" stroke="#0c1a2a" stroke-width="1" />
<line x1="597.00" y1="372.80" x2="597.00" y2="375.40" stroke="#0c1a2a" stroke-width="1" />
<path d="M555.4,379.2 L555.4,363.4 L567.4,363.4 L567.4,379.2 Z" fill="#fff" stroke="#1a1a1a" stroke-width="1.4"/>
<line x1="555.40" y1="379.10" x2="567.40" y2="379.10" stroke="#1a1a1a" stroke-width="2" />
<polygon points="563,366.5 566.2,366.5 566.2,369" fill="#1a1a1a"/>
<rect x="560" y="372.6" width="7" height="3.4" fill="#1a9ad6" stroke="#0a2038" stroke-width="1"/>
<path d="M582.4,371 L582.4,352.8 L611.6,352.8 L611.6,371" fill="none" stroke="#1a1a1a" stroke-width="1.5"/>
<line x1="582.40" y1="352.90" x2="611.60" y2="352.90" stroke="#1a1a1a" stroke-width="2.2" />
<line x1="586.00" y1="371.20" x2="609.00" y2="371.20" stroke="#1a1a1a" stroke-width="2.2" />
<path d="M826.5,376 L826.5,352.6 L855.4,352.6 L855.4,376 L853,376" fill="none" stroke="#1a1a1a" stroke-width="1.5"/>
<line x1="826.50" y1="352.70" x2="855.40" y2="352.70" stroke="#1a1a1a" stroke-width="2.2" />
<rect x="848.3" y="348.4" width="4.4" height="3.8" fill="#fff" stroke="#1a1a1a" stroke-width="1.2"/>
<rect x="827.8" y="353.6" width="17.6" height="24.8" fill="none" stroke="#a0a0a0" stroke-width="1"/>
<line x1="829.00" y1="363.20" x2="844.00" y2="363.20" stroke="#888" stroke-width="1" />
<line x1="831.00" y1="361.00" x2="843.00" y2="361.00" stroke="#444" stroke-width="1" stroke-dasharray="2 1"/>
<line x1="829.00" y1="370.80" x2="852.00" y2="370.80" stroke="#1a1a1a" stroke-width="2" />
<rect x="852" y="373" width="2" height="2" fill="#1a1a1a"/>
<circle cx="837.5" cy="374.6" r="2.4" fill="#fff" stroke="#888" stroke-width="1"/>
<path d="M827,372.6 L831,372.6 L831,376.2 L828,376.2" fill="none" stroke="#1a4a7a" stroke-width="1.3"/>
<path d="M883.5,355 C880.5,357 882,358.5 884,359.3 C881.5,360.5 881,362 883.5,364" fill="none" stroke="#1a1a1a" stroke-width="1.2"/>
<rect x="1127.4" y="363.5" width="12.7" height="15.8" fill="#fff" stroke="#1a1a1a" stroke-width="1.5"/>
<line x1="1129.00" y1="366.00" x2="1138.80" y2="366.00" stroke="#1a1a1a" stroke-width="1" />
<rect x="1129.5" y="367" width="2" height="2" fill="#1a1a1a"/>
<rect x="1129.5" y="375" width="2" height="2" fill="#1a1a1a"/>
<rect x="1140.6" y="46.8" width="3.7" height="334.4" fill="#fff" stroke="#1a1a1a" stroke-width="1.3"/>
<rect x="1144.3" y="363.5" width="2.3" height="17.3" fill="#fff" stroke="#1a1a1a" stroke-width="1.1"/>
<path d="M1140.6,61.5 L1136.5,61.5 L1136.5,43.5 L1147.5,43.5 L1147.5,61.5 L1144.3,61.5" fill="none" stroke="#1a1a1a" stroke-width="2"/>
<rect x="1137.8" y="57" width="2" height="3" fill="#1a1a1a"/>
<rect x="1144.6" y="57" width="2" height="3" fill="#1a1a1a"/>
<line x1="557.60" y1="318.00" x2="557.60" y2="363.40" stroke="#a8182f" stroke-width="1" />
<line x1="555.60" y1="379.00" x2="555.60" y2="456.00" stroke="#a8182f" stroke-width="1" />
<line x1="880.50" y1="318.00" x2="880.50" y2="357.00" stroke="#a8182f" stroke-width="1" />
<line x1="557.60" y1="329.20" x2="880.50" y2="329.20" stroke="#a8182f" stroke-width="1" />
<polygon points="557.60,329.20 566.30,326.85 566.30,331.55" fill="#d40a24"/>
<polygon points="880.50,329.20 871.80,331.55 871.80,326.85" fill="#d40a24"/>
<line x1="880.50" y1="329.20" x2="1140.60" y2="329.20" stroke="#a8182f" stroke-width="1" />
<polygon points="880.50,329.20 889.20,326.85 889.20,331.55" fill="#d40a24"/>
<polygon points="1140.60,329.20 1131.90,331.55 1131.90,326.85" fill="#d40a24"/>
<line x1="559.40" y1="379.00" x2="559.40" y2="415.00" stroke="#a8182f" stroke-width="1" />
<line x1="831.60" y1="378.50" x2="831.60" y2="418.00" stroke="#a8182f" stroke-width="1" />
<line x1="559.40" y1="404.20" x2="831.60" y2="404.20" stroke="#a8182f" stroke-width="1" />
<polygon points="559.40,404.20 568.10,401.85 568.10,406.55" fill="#d40a24"/>
<polygon points="831.60,404.20 822.90,406.55 822.90,401.85" fill="#d40a24"/>
<line x1="1146.60" y1="384.00" x2="1146.60" y2="460.00" stroke="#a8182f" stroke-width="1" />
<line x1="555.60" y1="446.40" x2="1146.60" y2="446.40" stroke="#a8182f" stroke-width="1" />
<polygon points="555.60,446.40 564.30,444.05 564.30,448.75" fill="#d40a24"/>
<polygon points="1146.60,446.40 1137.90,448.75 1137.90,444.05" fill="#d40a24"/>
<line x1="1147.00" y1="42.50" x2="1225.00" y2="42.50" stroke="#a8182f" stroke-width="1" />
<line x1="1147.00" y1="46.30" x2="1170.00" y2="46.30" stroke="#a8182f" stroke-width="1" />
<line x1="1145.00" y1="381.20" x2="1225.00" y2="381.20" stroke="#a8182f" stroke-width="1" />
<line x1="1164.60" y1="46.30" x2="1164.60" y2="381.20" stroke="#a8182f" stroke-width="1" />
<polygon points="1164.60,46.30 1166.95,55.00 1162.25,55.00" fill="#d40a24"/>
<polygon points="1164.60,381.20 1162.25,372.50 1166.95,372.50" fill="#d40a24"/>
<line x1="1209.80" y1="42.50" x2="1209.80" y2="381.20" stroke="#a8182f" stroke-width="1" />
<polygon points="1209.80,42.50 1212.15,51.20 1207.45,51.20" fill="#d40a24"/>
<polygon points="1209.80,381.20 1207.45,372.50 1212.15,372.50" fill="#d40a24"/>
<g font-family="Liberation Sans, sans-serif">
<text x="708.55" y="320.48" font-size="27.00" font-weight="bold" fill="#cc0f2b" textLength="18.48" lengthAdjust="spacingAndGlyphs" letter-spacing="0">C</text>
<text x="1008.08" y="321.90" font-size="27.00" font-weight="bold" fill="#cc0f2b" textLength="19.85" lengthAdjust="spacingAndGlyphs" letter-spacing="0">D</text>
<text x="680.87" y="430.46" font-size="27.00" font-weight="bold" fill="#cc0f2b" textLength="20.05" lengthAdjust="spacingAndGlyphs" letter-spacing="0">B</text>
<text x="841.85" y="476.88" font-size="27.00" font-weight="bold" fill="#cc0f2b" textLength="19.50" lengthAdjust="spacingAndGlyphs" letter-spacing="0">A</text>
<text x="1171.20" y="223.44" font-size="23.60" font-weight="bold" fill="#cc0f2b" textLength="14.90" lengthAdjust="spacingAndGlyphs" letter-spacing="0">E</text>
<text x="1215.14" y="223.44" font-size="23.60" font-weight="bold" fill="#cc0f2b" textLength="14.02" lengthAdjust="spacingAndGlyphs" letter-spacing="0">F</text>
</g>
</svg>
</body></html>
